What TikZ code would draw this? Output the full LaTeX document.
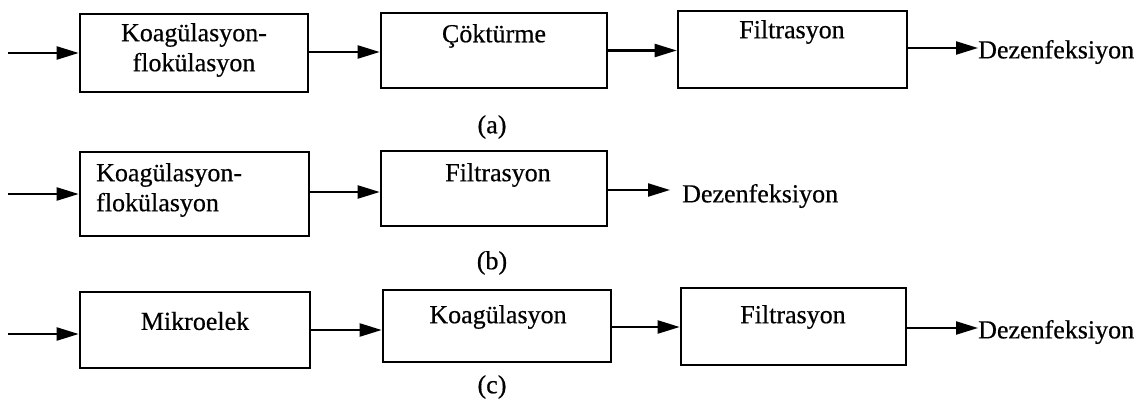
\documentclass[tikz,border=0pt]{standalone}
\usepackage{fontspec}
\setmainfont{Liberation Serif}[FakeBold=0.5]
\usetikzlibrary{arrows.meta}
\tikzset{
  box/.style={draw, line width=2.6pt, rectangle, inner sep=0pt},
  lbl/.style={inner sep=0pt, font=\fontsize{26}{30}\selectfont},
  flow/.style={line width=2.2pt, -{Triangle[length=22pt,width=13pt]}},
}
\begin{document}
\begin{tikzpicture}[x=1pt,y=-1pt]
\useasboundingbox (0,0) rectangle (1141,407);
% ---------- row (a)
\coordinate (ain) at (8,53);
\node[box, minimum width=228pt, minimum height=78pt] (a1) at (194,53) {};
\node[lbl, align=center] (a1t) at (194,50) {Koagülasyon-\\flokülasyon};
\node[box, minimum width=226pt, minimum height=75pt] (a2) at (494,50.5) {};
\node[lbl] (a2t) at (494,36) {Çöktürme};
\node[box, minimum width=229pt, minimum height=77pt] (a3) at (792.5,49.5) {};
\node[lbl] (a3t) at (792,32) {Filtrasyon};
\node[lbl, anchor=west] (a4) at (978,52) {Dezenfeksiyon};
\node[lbl] (acap) at (492,127) {(a)};
\draw[flow] (ain) -- (ain -| a1.west);
\draw[flow] ([yshift=1pt]a1.east) -- ([yshift=1pt]a1.east -| a2.west);
\draw[flow] (a2.east) -- (a2.east -| a3.west);
\draw[flow] ([yshift=1.5pt]a3.east) -- ([yshift=1.5pt]a3.east -| a4.west);
% ---------- row (b)
\coordinate (bin) at (8,194);
\node[box, minimum width=229pt, minimum height=84pt] (b1) at (194.5,194) {};
\node[lbl, align=left, anchor=west] (b1t) at (96,190) {Koagülasyon-\\flokülasyon};
\node[box, minimum width=226pt, minimum height=75pt] (b2) at (494,188.5) {};
\node[lbl] (b2t) at (498,175) {Filtrasyon};
\node[lbl, anchor=west] (b3) at (682,196) {Dezenfeksiyon};
\coordinate (bend) at (670,190);
\node[lbl] (bcap) at (492,263) {(b)};
\draw[flow] (bin) -- (bin -| b1.west);
\draw[flow] (b1.east |- 0,192) -- (b2.west |- 0,192);
\draw[flow] (b2.east |- bend) -- (bend);
% ---------- row (c)
\coordinate (cin) at (8,334);
\node[box, minimum width=230pt, minimum height=76pt] (c1) at (195,330) {};
\node[lbl] (c1t) at (195,321) {Mikroelek};
\node[box, minimum width=228pt, minimum height=72pt] (c2) at (497,326) {};
\node[lbl] (c2t) at (498,317) {Koagülasyon};
\node[box, minimum width=225pt, minimum height=77pt] (c3) at (793.5,326.5) {};
\node[lbl] (c3t) at (793,317) {Filtrasyon};
\node[lbl, anchor=west] (c4) at (978,332) {Dezenfeksiyon};
\node[lbl] (ccap) at (492,387) {(c)};
\draw[flow] (cin) -- (cin -| c1.west);
\draw[flow] (c1.east |- 0,330) -- (c2.west |- 0,330);
\draw[flow] (c2.east |- 0,327) -- (c3.west |- 0,327);
\draw[flow] (c3.east |- 0,328) -- (c4.west |- 0,328);
\end{tikzpicture}
\end{document}
